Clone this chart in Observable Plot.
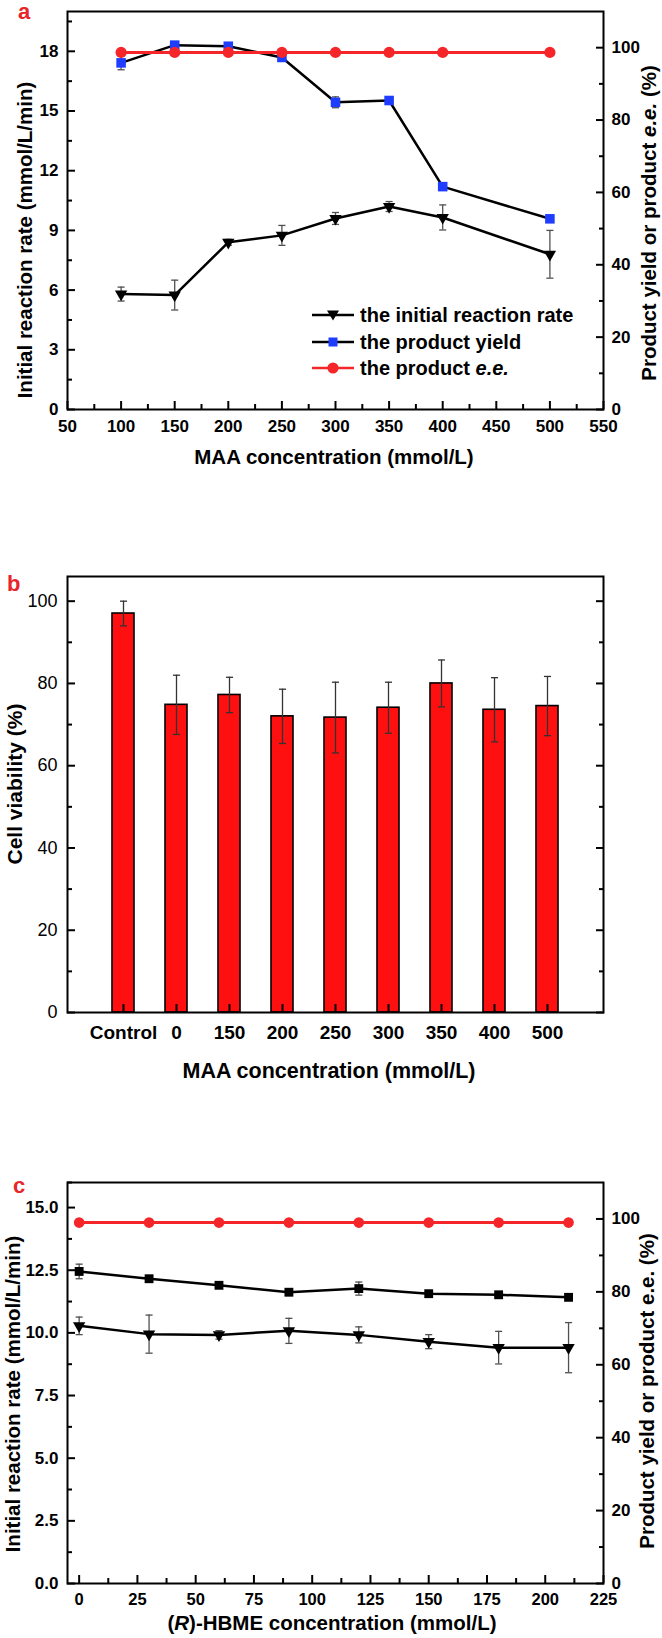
<!DOCTYPE html>
<html><head><meta charset="utf-8">
<script src="https://cdn.jsdelivr.net/npm/d3@7"></script>
<script src="https://cdn.jsdelivr.net/npm/@observablehq/plot@0.6"></script>
<style>
body{margin:0;background:#fff;}
#root{position:relative;width:662px;height:1638px;overflow:hidden;background:#fff;font-family:'Liberation Sans',Arial,sans-serif;}
#root svg.plotsvg{position:absolute;left:0;}
.t{position:absolute;font-weight:bold;font-size:20.5px;white-space:nowrap;color:#000;line-height:1;}
.v{transform:translate(-50%,-50%) rotate(-90deg);}
.h{transform:translate(-50%,-50%);}
.lab{position:absolute;color:#e8262a;font-weight:bold;font-size:22px;line-height:1;}
.leg{position:absolute;display:flex;align-items:center;font-weight:bold;font-size:20px;line-height:1;white-space:nowrap;}
.leg svg{margin-right:6px;}
</style></head><body><div id="root"></div>
<script>
// ---------- Panel a data ----------
const maaConc = [100, 150, 200, 250, 300, 350, 400, 500];
const rateA = [5.8, 5.75, 8.4, 8.75, 9.6, 10.2, 9.65, 7.8];
const rateAErr = [0.35, 0.75, 0.15, 0.5, 0.3, 0.25, 0.63, 1.2];
const yieldA = [95.8, 100.7, 100.4, 97.3, 84.9, 85.4, 61.6, 52.7];
const yieldAErr = [1.9, 0.4, 0.4, 0.4, 1.5, 0.4, 0.4, 0.4];
const eeA = [98.7, 98.7, 98.7, 98.7, 98.7, 98.7, 98.7, 98.7];
const xTicksA = [50, 100, 150, 200, 250, 300, 350, 400, 450, 500, 550];
const xMinorA = [75, 125, 175, 225, 275, 325, 375, 425, 475, 525];
const yTicksA = [0, 3, 6, 9, 12, 15, 18];
const yMinorA = [1.5, 4.5, 7.5, 10.5, 13.5, 16.5, 19.5];
const yRTicks = [0, 20, 40, 60, 80, 100];
const yRMinor = [10, 30, 50, 70, 90];

// ---------- Panel b data ----------
const cellCats = ["Control", "0", "150", "200", "250", "300", "350", "400", "500"];
const viability = [97.0, 74.8, 77.2, 72.0, 71.7, 74.1, 80.0, 73.6, 74.5];
const viabilityErr = [3.0, 7.2, 4.3, 6.6, 8.6, 6.2, 5.7, 7.8, 7.2];
const yTicksB = [0, 20, 40, 60, 80, 100];
const yMinorB = [10, 30, 50, 70, 90];

// ---------- Panel c data ----------
const hbmeConc = [0, 30, 60, 90, 120, 150, 180, 210];
const rateC = [10.28, 9.95, 9.92, 10.08, 9.92, 9.65, 9.41, 9.41];
const rateCErr = [0.35, 0.76, 0.17, 0.5, 0.32, 0.28, 0.65, 1.0];
const yieldC = [85.6, 83.6, 81.8, 79.9, 80.9, 79.5, 79.2, 78.5];
const yieldCErr = [2.0, 0.3, 0.3, 0.3, 1.8, 0.3, 0.3, 0.3];
const eeC = [99.0, 99.0, 99.0, 99.0, 99.0, 99.0, 99.0, 99.0];
const xTicksC = [0, 25, 50, 75, 100, 125, 150, 175, 200, 225];
const xMinorC = [12.5, 37.5, 62.5, 87.5, 112.5, 137.5, 162.5, 187.5, 212.5];
const yTicksC = [0, 2.5, 5, 7.5, 10, 12.5, 15];
const yMinorC = [1.25, 3.75, 6.25, 8.75, 11.25, 13.75, 16];

// ---------- tables ----------
const rowsA = maaConc.map((c, i) => ({c, rate: rateA[i], rateErr: rateAErr[i], yld: yieldA[i], yldErr: yieldAErr[i], ee: eeA[i]}));
const rowsB = cellCats.map((cat, i) => ({cat, v: viability[i], e: viabilityErr[i]}));
const rowsC = hbmeConc.map((c, i) => ({c, rate: rateC[i], rateErr: rateCErr[i], yld: yieldC[i], yldErr: yieldCErr[i], ee: eeC[i]}));

const FONT = "'Liberation Sans', Arial, sans-serif";
const RED = "#f5262a";
const BAR = "#ff1010";
const BLUE = "#1f3dff";
const ERR = "#505050";
const W = 662, ML = 67, MR = 59;
const root = document.getElementById("root");

const cap = {draw(ctx, size) { const w = Math.sqrt(size) / 2; ctx.moveTo(-w, 0); ctx.lineTo(w, 0); }};
const blank = () => "";

function base(h, mt, mb) {
  return {width: W, height: h, marginLeft: ML, marginRight: MR, marginTop: mt, marginBottom: mb,
    style: {background: "transparent", fontFamily: FONT, overflow: "visible"}};
}
function place(svg, top) { svg.classList.add("plotsvg"); svg.style.top = top + "px"; root.appendChild(svg); }

function ticksX(major, minor, pad, fs) {
  return [
    Plot.axisX(major, {anchor: "bottom", tickSize: -8, tickFormat: blank, strokeWidth: 2, label: null}),
    Plot.axisX(minor, {anchor: "bottom", tickSize: -5, tickFormat: blank, strokeWidth: 2, label: null}),
    Plot.axisX(major, {anchor: "bottom", tickSize: 0, tickPadding: pad, fontSize: fs, fontWeight: "bold", label: null})
  ];
}
function ticksY(anchor, major, minor, pad, fs, fmt, weight, labels = true) {
  const m = [
    Plot.axisY(major, {anchor, tickSize: -8, tickFormat: blank, strokeWidth: 2, label: null}),
    Plot.axisY(minor, {anchor, tickSize: -5, tickFormat: blank, strokeWidth: 2, label: null})
  ];
  if (labels) m.push(Plot.axisY(major, {anchor, tickSize: 0, tickPadding: pad, fontSize: fs, fontWeight: weight, tickFormat: fmt, label: null}));
  return m;
}
function errMarks(rows, x, y, e) {
  return [
    Plot.ruleX(rows, {x, y1: d => d[y] - d[e], y2: d => d[y] + d[e], stroke: ERR, strokeWidth: 1.3}),
    Plot.dot(rows, {x, y: d => d[y] + d[e], symbol: cap, r: 4, stroke: ERR, strokeWidth: 1.3, fill: "none"}),
    Plot.dot(rows, {x, y: d => d[y] - d[e], symbol: cap, r: 4, stroke: ERR, strokeWidth: 1.3, fill: "none"})
  ];
}

// ================= Panel a =================
place(Plot.plot({
  ...base(480, 11, 71),
  x: {domain: [50, 550], label: null},
  y: {domain: [0, 20], label: null},
  marks: [
    ...errMarks(rowsA, "c", "rate", "rateErr"),
    Plot.line(rowsA, {x: "c", y: "rate", stroke: "black", strokeWidth: 2.5}),
    Plot.dot(rowsA, {x: "c", y: "rate", symbol: "triangle", rotate: 180, r: 4.6, fill: "black"}),
    ...ticksX(xTicksA, xMinorA, 10, 17),
    ...ticksY("left", yTicksA, yMinorA, 9, 17, d => d, "bold"),
    Plot.frame({stroke: "black", strokeWidth: 2})
  ]
}), 0);
place(Plot.plot({
  ...base(480, 11, 71),
  x: {domain: [50, 550], axis: null},
  y: {domain: [0, 110], label: null},
  marks: [
    ...errMarks(rowsA, "c", "yld", "yldErr"),
    Plot.line(rowsA, {x: "c", y: "yld", stroke: "black", strokeWidth: 2.5}),
    Plot.dot(rowsA, {x: "c", y: "yld", symbol: "square", r: 5.4, fill: BLUE}),
    Plot.line(rowsA, {x: "c", y: "ee", stroke: RED, strokeWidth: 3}),
    Plot.dot(rowsA, {x: "c", y: "ee", symbol: "circle", r: 5.6, fill: RED}),
    ...ticksY("right", yRTicks, yRMinor, 8, 17, d => d, "bold")
  ]
}), 0);

// ================= Panel b =================
place(Plot.plot({
  ...base(540, 36, 68),
  x: {domain: cellCats, type: "band", paddingInner: 0.59, paddingOuter: 0.795, label: null},
  y: {domain: [0, 106], label: null},
  marks: [
    Plot.barY(rowsB, {x: "cat", y: "v", fill: BAR, stroke: "black", strokeWidth: 1.6}),
    Plot.ruleX(rowsB, {x: "cat", y1: d => d.v - d.e, y2: d => d.v + d.e, stroke: "#333", strokeWidth: 1.3}),
    Plot.dot(rowsB, {x: "cat", y: d => d.v + d.e, symbol: cap, r: 4, stroke: "#333", strokeWidth: 1.3, fill: "none"}),
    Plot.dot(rowsB, {x: "cat", y: d => d.v - d.e, symbol: cap, r: 4, stroke: "#333", strokeWidth: 1.3, fill: "none"}),
    Plot.axisX(cellCats, {anchor: "bottom", tickSize: -8, tickFormat: blank, strokeWidth: 2, label: null}),
    Plot.axisX(cellCats, {anchor: "bottom", tickSize: 0, tickPadding: 13, fontSize: 19, fontWeight: "bold", label: null}),
    ...ticksY("left", yTicksB, yMinorB, 10, 18, d => d, "normal"),
    ...ticksY("right", yTicksB, yMinorB, 8, 18, d => d, "normal", false),
    Plot.frame({stroke: "black", strokeWidth: 2})
  ]
}), 540);

// ================= Panel c =================
place(Plot.plot({
  ...base(488, 32, 55),
  x: {domain: [-5, 225], label: null},
  y: {domain: [0, 16], label: null},
  marks: [
    ...errMarks(rowsC, "c", "rate", "rateErr"),
    Plot.line(rowsC, {x: "c", y: "rate", stroke: "black", strokeWidth: 2.5}),
    Plot.dot(rowsC, {x: "c", y: "rate", symbol: "triangle", rotate: 180, r: 4.6, fill: "black"}),
    ...ticksX(xTicksC, xMinorC, 10, 16.5),
    ...ticksY("left", yTicksC, yMinorC, 9, 17, d => d.toFixed(1), "bold"),
    Plot.frame({stroke: "black", strokeWidth: 2})
  ]
}), 1150);
place(Plot.plot({
  ...base(488, 32, 55),
  x: {domain: [-5, 225], axis: null},
  y: {domain: [0, 110], label: null},
  marks: [
    ...errMarks(rowsC, "c", "yld", "yldErr"),
    Plot.line(rowsC, {x: "c", y: "yld", stroke: "black", strokeWidth: 2.5}),
    Plot.dot(rowsC, {x: "c", y: "yld", symbol: "square", r: 5, fill: "black"}),
    Plot.line(rowsC, {x: "c", y: "ee", stroke: RED, strokeWidth: 3}),
    Plot.dot(rowsC, {x: "c", y: "ee", symbol: "circle", r: 5.3, fill: RED}),
    ...ticksY("right", yRTicks, yRMinor, 8, 17, d => d, "bold")
  ]
}), 1150);

// ================= Titles, panel labels, legend =================
function txt(html, cls, x, y, extra = "") {
  const d = document.createElement("div");
  d.className = cls; d.innerHTML = html;
  d.style.left = x + "px"; d.style.top = y + "px";
  if (extra) d.style.cssText += extra;
  root.appendChild(d);
  return d;
}
txt("a", "lab", 18, 1);
txt("b", "lab", 7, 573);
txt("c", "lab", 13, 1175);

txt("Initial reaction rate (mmol/L/min)", "t v", 25, 240);
txt("Product yield or product <i>e.e.</i> (%)", "t v", 649, 223);
txt("MAA concentration (mmol/L)", "t h", 334, 457);

txt("Cell viability (%)", "t v", 14, 784, "font-size:21px;");
txt("MAA concentration (mmol/L)", "t h", 329, 1072, "font-size:21.5px;");

txt("Initial reaction rate (mmol/L/min)", "t v", 13, 1394);
txt("Product yield or product e.e. (%)", "t v", 647, 1391);
txt("(<i>R</i>)-HBME concentration (mmol/L)", "t h", 332, 1623);

const legendRows = [
  {label: "the initial reaction rate", line: "black", sym: '<path d="M15,5.5 L27,5.5 L21,15.5 Z" fill="black"/>'},
  {label: "the product yield", line: "black", sym: `<rect x="16.5" y="5.5" width="9" height="9" fill="${BLUE}"/>`},
  {label: "the product <i>e.e.</i>", line: RED, sym: `<circle cx="21" cy="10" r="5.6" fill="${RED}"/>`}
];
const legY = [315, 342, 368];
legendRows.forEach((r, i) => {
  txt(`<svg width="42" height="20"><line x1="0" y1="10" x2="42" y2="10" stroke="${r.line}" stroke-width="2.6"/>${r.sym}</svg><span>${r.label}</span>`,
    "leg", 312, legY[i] - 10);
});
</script></body></html>
